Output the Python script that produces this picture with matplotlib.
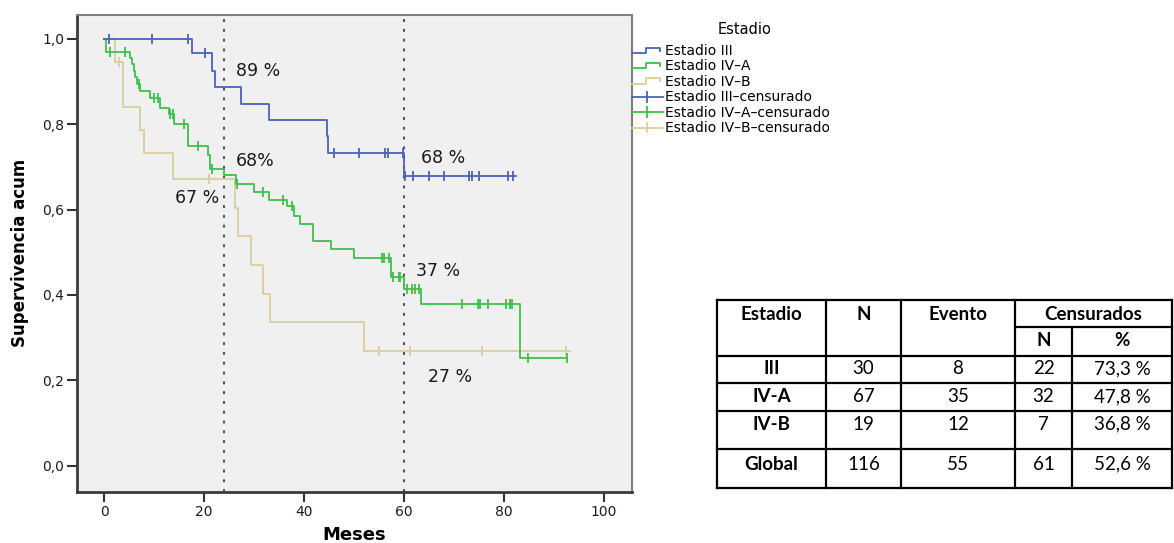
import numpy as np
import matplotlib
matplotlib.use("Agg")
import matplotlib.pyplot as plt
from matplotlib.lines import Line2D
from matplotlib.legend_handler import HandlerBase

# ====================== DATA ======================
# Kaplan-Meier steps: time of each drop (months) and survival after it
iii_times = [0, 17.6, 21.6, 22.2, 27.3, 33.0, 44.5, 44.8, 60.0]
iii_surv = [1.0, 0.966, 0.924, 0.887, 0.848, 0.811, 0.772, 0.732, 0.678]
iii_end = 82.3
iii_cens = [1.0, 9.5, 16.8, 20.2, 46.0, 50.9, 56.2, 56.7, 59.7, 60.2, 61.7,
            64.9, 68.0, 72.9, 73.5, 75.0, 80.7, 81.7]

iva_times = [0, 0.3, 5.2, 5.6, 5.9, 6.2, 6.5, 7.2, 9.2, 11.2, 12.9, 13.9, 16.8,
             20.8, 21.2, 23.9, 26.4, 30.0, 32.9, 36.5, 37.9, 39.2, 41.7, 45.4,
             49.9, 57.3, 60.0, 63.4, 83.2]
iva_surv = [1.0, 0.970, 0.955, 0.940, 0.925, 0.910, 0.895, 0.877, 0.862, 0.839,
            0.823, 0.800, 0.748, 0.727, 0.696, 0.680, 0.660, 0.640, 0.622,
            0.608, 0.586, 0.566, 0.527, 0.507, 0.487, 0.443, 0.414, 0.378, 0.252]
iva_end = 92.5
iva_cens = [1.2, 4.2, 6.9, 10.0, 10.7, 13.2, 13.7, 16.0, 18.7, 21.5, 26.6, 31.7,
            35.7, 37.6, 55.5, 56.0, 57.0, 57.7, 58.9, 59.2, 60.5, 61.5, 62.2,
            62.9, 71.5, 74.7, 75.1, 76.7, 80.4, 81.1, 81.5, 84.7, 92.5]

ivb_times = [0, 2.2, 3.7, 7.2, 7.9, 13.7, 26.2, 26.7, 29.4, 31.7, 33.1, 51.9]
ivb_surv = [1.0, 0.947, 0.840, 0.787, 0.733, 0.671, 0.604, 0.537, 0.470,
            0.403, 0.336, 0.268]
ivb_end = 93.2
ivb_cens = [3.0, 21.0, 54.9, 61.2, 75.5, 92.3]

# percentages written on the chart: text, x (months), y (survival)
pct_text = ["89 %", "68%", "67 %", "68 %", "37 %", "27 %"]
pct_x = [26.3, 26.3, 14.2, 63.3, 62.3, 64.8]
pct_y = [0.925, 0.714, 0.627, 0.721, 0.456, 0.207]

ref_months = [24, 60]

# summary table
tab_estadio = ["III", "IV-A", "IV-B", "Global"]
tab_n = [30, 67, 19, 116]
tab_evento = [8, 35, 12, 55]
tab_cens_n = [22, 32, 7, 61]
tab_cens_pct = [73.3, 47.8, 36.8, 52.6]

# ====================== SETUP ======================
W, H = 1174, 543
C_III = "#4a62b8"
C_IVA = "#3fbf4a"
C_IVB = "#d8cf9c"

fig = plt.figure(figsize=(W / 100, H / 100), dpi=100)
ax = fig.add_axes([76.7 / W, 1 - 492 / H, (632.5 - 76.7) / W, (492 - 15) / H])
ax.set_facecolor("#f0f0f0")


def km_curve(times, surv, end, cens, color):
    t = list(times) + [end]
    s = list(surv) + [surv[-1]]
    ax.step(t, s, where="post", color=color, lw=1.3, zorder=3)
    idx = np.searchsorted(times, cens, side="right") - 1
    ax.plot(cens, np.asarray(surv)[idx], ls="none", marker="|", ms=7,
            mew=1.3, color=color, zorder=4)


km_curve(ivb_times, ivb_surv, ivb_end, ivb_cens, C_IVB)
km_curve(iva_times, iva_surv, iva_end, iva_cens, C_IVA)
km_curve(iii_times, iii_surv, iii_end, iii_cens, C_III)

for m in ref_months:
    ax.axvline(m, color="#555555", lw=1.5, ls=(0, (1.4, 3.3)), zorder=2)

for txt, x, y in zip(pct_text, pct_x, pct_y):
    ax.text(x, y, txt, fontsize=12.5, color="#1a1a1a", va="center", ha="left")

ax.set_xlim(-5.5, 105.7)
ax.set_ylim(-0.062, 1.056)
ax.set_xticks([0, 20, 40, 60, 80, 100])
ax.set_yticks([0, 0.2, 0.4, 0.6, 0.8, 1.0])
ax.set_yticklabels([f"{v:.1f}".replace(".", ",") for v in ax.get_yticks()])
ax.tick_params(direction="out", length=7, width=1.5, color="#333333",
               labelsize=10, labelcolor="#1a1a2a", pad=2)
for side in ["left", "bottom"]:
    ax.spines[side].set_linewidth(2)
    ax.spines[side].set_color("#3a3a3a")
for side in ["top", "right"]:
    ax.spines[side].set_linewidth(1.5)
    ax.spines[side].set_color("#808080")

fig.text(20 / W, 1 - 253 / H, "Supervivencia acum", rotation=90, fontsize=12,
         fontweight="bold", ha="center", va="center")
fig.text(354 / W, 1 - 535 / H, "Meses", fontsize=13, fontweight="bold",
         ha="center", va="center")


# ====================== LEGEND ======================
class StepHandler(HandlerBase):
    def create_artists(self, legend, orig, xd, yd, w, h, fs, trans):
        xs = -xd + np.array([0, 0.45, 0.45, 0.93, 0.93]) * w
        ys = -yd + np.array([0.2, 0.2, 0.75, 0.75, 0.45]) * h
        ln = Line2D(xs, ys, color=orig.get_color(), lw=1.3)
        ln.set_transform(trans)
        return [ln]


class CensHandler(HandlerBase):
    def create_artists(self, legend, orig, xd, yd, w, h, fs, trans):
        ln = Line2D([-xd, -xd + w], [-yd + h * 0.45] * 2, color=orig.get_color(), lw=1.3)
        tk = Line2D([-xd + w / 2] * 2, [-yd - h * 0.05, -yd + h * 0.95],
                    color=orig.get_color(), lw=1.3)
        ln.set_transform(trans)
        tk.set_transform(trans)
        return [ln, tk]


colors = [C_III, C_IVA, C_IVB]
names = ["Estadio III", "Estadio IV\u2013A", "Estadio IV\u2013B"]
handles, labels, hmap = [], [], {}
for c, n in zip(colors, names):
    h = Line2D([], [], color=c)
    handles.append(h)
    labels.append(n)
    hmap[h] = StepHandler()
for c, n in zip(colors, names):
    h = Line2D([], [], color=c)
    handles.append(h)
    labels.append(n + "\u2013censurado")
    hmap[h] = CensHandler()

leg = fig.legend(handles, labels, handler_map=hmap, loc="upper left",
                 bbox_to_anchor=(632 / W, 1 - 44 / H), frameon=False,
                 borderpad=0, borderaxespad=0, handlelength=2.2,
                 handletextpad=0.2, labelspacing=0.1, fontsize=10)
fig.text(745 / W, 1 - 30 / H, "Estadio", fontsize=10.5, ha="center", va="center")

# ====================== TABLE ======================
tab = fig.add_axes([0, 0, 1, 1])
tab.set_xlim(0, W)
tab.set_ylim(H, 0)
tab.axis("off")
tab.patch.set_alpha(0)

col_x = [717, 826, 901, 1015, 1072, 1172]
row_y = [300, 327, 356, 383, 411, 449, 488]
lw_t = 1.6
tfont = ["Lato", "DejaVu Sans"]
tsize = 13.5

# outer border and full-width lines
for y in [row_y[0]] + row_y[2:]:
    tab.plot([col_x[0], col_x[-1]], [y, y], color="black", lw=lw_t)
tab.plot([col_x[3], col_x[-1]], [row_y[1]] * 2, color="black", lw=lw_t)
for i, x in enumerate(col_x):
    y0 = row_y[1] if i == 4 else row_y[0]
    tab.plot([x, x], [y0, row_y[-1]], color="black", lw=lw_t)


def cx(i):
    return (col_x[i] + col_x[i + 1]) / 2


head_y, sub_y = 315, 341
for i, t in enumerate(["Estadio", "N", "Evento"]):
    tab.text(cx(i), head_y, t, ha="center", va="center", fontsize=tsize,
             fontweight="bold", family=tfont)
tab.text((col_x[3] + col_x[5]) / 2, head_y, "Censurados", ha="center",
         va="center", fontsize=tsize, fontweight="bold", family=tfont)
tab.text(cx(3), sub_y, "N", ha="center", va="center", fontsize=tsize,
         fontweight="bold", family=tfont)
tab.text(cx(4), sub_y, "%", ha="center", va="center", fontsize=tsize,
         fontweight="bold", family=tfont)

text_y = [369, 397, 424, 464]
for r, y in enumerate(text_y):
    tab.text(cx(0), y, tab_estadio[r], ha="center", va="center", fontsize=tsize,
             fontweight="bold", family=tfont)
    vals = [str(tab_n[r]), str(tab_evento[r]), str(tab_cens_n[r]),
            f"{tab_cens_pct[r]:.1f} %".replace(".", ",")]
    for j, v in enumerate(vals):
        tab.text(cx(j + 1), y, v, ha="center", va="center", fontsize=tsize,
                 family=tfont)

fig.savefig("out.png", dpi=100)
